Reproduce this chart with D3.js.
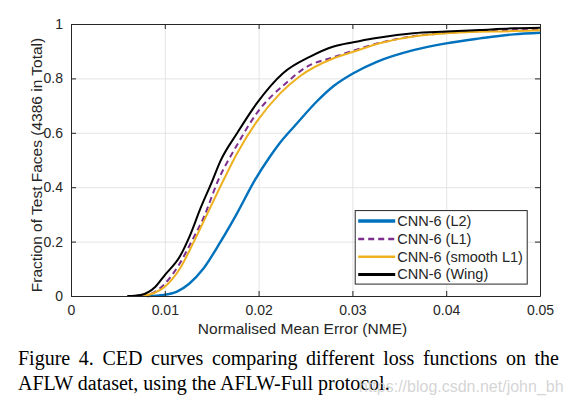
<!DOCTYPE html>
<html lang="en">
<head>
<meta charset="UTF-8">
<title>CED curves</title>
<script src="https://cdn.jsdelivr.net/npm/d3@7/dist/d3.min.js"></script>
<style>
    body { margin: 0; background: #fff; }
    svg text { font-family: "Liberation Sans", Arial, sans-serif; fill: #262626; }
    .grid line { stroke: #dcdcdc; stroke-width: 0.8px; }
    .grid path { display: none; }
    .axis path, .axis line { stroke: #262626; stroke-width: 1px; }
    .axis text { font-size: 14px; fill: #262626; }
    .curve { fill: none; stroke-linejoin: round; }
    .caption { font-family: "Liberation Serif", "Times New Roman", serif; font-size: 20px; fill: #000; }
</style>
</head>
<body>
<svg width="569" height="405"></svg>
<script>
    // values
    var xTicks = [0, 0.01, 0.02, 0.03, 0.04, 0.05],
        yTicks = [0, 0.2, 0.4, 0.6, 0.8, 1];

    var l2X = [0.0081, 0.0099, 0.0113, 0.0126, 0.0141, 0.0159, 0.0177, 0.0196, 0.0212, 0.0222, 0.0241, 0.0262, 0.0280, 0.0301, 0.0326, 0.0365, 0.0400, 0.0436, 0.0472, 0.0500],
        l2Y = [0, 0.004, 0.016, 0.045, 0.100, 0.197, 0.304, 0.426, 0.512, 0.560, 0.635, 0.715, 0.772, 0.819, 0.861, 0.904, 0.929, 0.947, 0.962, 0.968];

    var l1X = [0.0075, 0.0088, 0.0100, 0.0116, 0.0130, 0.0141, 0.0157, 0.0177, 0.0198, 0.0230, 0.0250, 0.0280, 0.0301, 0.0326, 0.0365, 0.0400, 0.0450, 0.0500],
        l1Y = [0, 0.012, 0.045, 0.120, 0.210, 0.285, 0.426, 0.555, 0.672, 0.785, 0.840, 0.878, 0.902, 0.928, 0.955, 0.967, 0.976, 0.981];

    var smoothX = [0.0077, 0.0088, 0.0100, 0.0116, 0.0131, 0.0145, 0.0162, 0.0177, 0.0198, 0.0223, 0.0244, 0.0280, 0.0301, 0.0329, 0.0365, 0.0400, 0.0472, 0.0500],
        smoothY = [0, 0.010, 0.034, 0.100, 0.200, 0.300, 0.422, 0.524, 0.641, 0.745, 0.808, 0.874, 0.898, 0.929, 0.954, 0.966, 0.974, 0.977];

    var wingX = [0.0060, 0.0074, 0.0090, 0.0100, 0.0116, 0.0127, 0.0138, 0.0151, 0.0159, 0.0177, 0.0198, 0.0226, 0.0255, 0.0280, 0.0301, 0.0322, 0.0365, 0.0400, 0.0436, 0.0472, 0.0500],
        wingY = [0, 0.004, 0.034, 0.077, 0.145, 0.224, 0.322, 0.426, 0.494, 0.598, 0.708, 0.819, 0.880, 0.917, 0.933, 0.947, 0.966, 0.972, 0.978, 0.984, 0.986];

    var names = ['CNN-6 (L2)', 'CNN-6 (L1)', 'CNN-6 (smooth L1)', 'CNN-6 (Wing)'];

    var series = [
        { name: names[0], xs: l2X, ys: l2Y, color: '#0072bd', width: 2.4, dash: null },
        { name: names[1], xs: l1X, ys: l1Y, color: '#7e2f8e', width: 2, dash: '6,4' },
        { name: names[2], xs: smoothX, ys: smoothY, color: '#edb120', width: 2, dash: null },
        { name: names[3], xs: wingX, ys: wingY, color: '#000000', width: 2, dash: null }
    ];

    var svg = d3.select('svg'),
        margin = { top: 24, right: 29, bottom: 109, left: 71 },
        width = 569 - margin.left - margin.right,
        height = 405 - margin.top - margin.bottom,
        g = svg.append('g').attr('transform', 'translate(' + margin.left + ',' + margin.top + ')');

    var x = d3.scaleLinear().domain([0, 0.05]).range([0, width]),
        y = d3.scaleLinear().domain([0, 1]).range([height, 0]);

    // grid
    g.append('g')
        .attr('class', 'grid')
        .attr('transform', 'translate(0,' + height + ')')
        .call(d3.axisBottom(x).tickValues(xTicks).tickSize(-height).tickFormat(''));
    g.append('g')
        .attr('class', 'grid')
        .call(d3.axisLeft(y).tickValues(yTicks).tickSize(-width).tickFormat(''));

    // curves
    var line = d3.line()
        .x(function(d) { return x(d[0]); })
        .y(function(d) { return y(d[1]); })
        .curve(d3.curveMonotoneX);

    series.forEach(function(s) {
        g.append('path')
            .datum(d3.zip(s.xs, s.ys))
            .attr('class', 'curve')
            .attr('d', line)
            .attr('stroke', s.color)
            .attr('stroke-width', s.width)
            .attr('stroke-dasharray', s.dash);
    });

    // axes, ticks pointing inward on all four sides
    g.append('g')
        .attr('class', 'axis')
        .attr('transform', 'translate(0,' + height + ')')
        .call(d3.axisBottom(x).tickValues(xTicks).tickSizeInner(-5).tickSizeOuter(0).tickPadding(9).tickFormat(String));
    g.append('g')
        .attr('class', 'axis')
        .call(d3.axisTop(x).tickValues(xTicks).tickSizeInner(-5).tickSizeOuter(0).tickFormat(''));
    g.append('g')
        .attr('class', 'axis')
        .call(d3.axisLeft(y).tickValues(yTicks).tickSizeInner(-5).tickSizeOuter(0).tickPadding(8).tickFormat(String));
    g.append('g')
        .attr('class', 'axis')
        .attr('transform', 'translate(' + width + ',0)')
        .call(d3.axisRight(y).tickValues(yTicks).tickSizeInner(-5).tickSizeOuter(0).tickFormat(''));

    // axis labels
    g.append('text')
        .attr('x', width / 2 - 3)
        .attr('y', height + 38)
        .attr('text-anchor', 'middle')
        .style('font-size', '15.5px')
        .text('Normalised Mean Error (NME)');
    g.append('text')
        .attr('transform', 'translate(' + (-29) + ',' + (height / 2 + 5) + ') rotate(-90)')
        .attr('text-anchor', 'middle')
        .style('font-size', '15.5px')
        .text('Fraction of Test Faces (4386 in Total)');

    // legend
    var legend = g.append('g').attr('transform', 'translate(' + x(0.0303) + ',' + y(0.314) + ')');
    legend.append('rect')
        .attr('width', 172)
        .attr('height', 73.5)
        .attr('fill', '#fff')
        .attr('stroke', '#262626')
        .attr('stroke-width', 1);
    series.forEach(function(s, i) {
        var ly = 10.5 + i * 17.8;
        legend.append('line')
            .attr('x1', 3).attr('x2', 40)
            .attr('y1', ly).attr('y2', ly)
            .attr('stroke', s.color)
            .attr('stroke-width', i === 0 ? 3.5 : (i === 3 ? 3 : 2.5))
            .attr('stroke-dasharray', s.dash);
        legend.append('text')
            .attr('x', 42)
            .attr('y', ly + 5)
            .style('font-size', '14.5px')
            .text(s.name);
    });

    // caption
    var cap1 = svg.append('text')
        .attr('class', 'caption')
        .attr('x', 18)
        .attr('y', 365)
        .text('Figure 4. CED curves comparing different loss functions on the');
    var natural = cap1.node().getComputedTextLength(),
        gaps = 9;
    cap1.style('word-spacing', ((541 - natural) / gaps) + 'px');

    svg.append('text')
        .attr('class', 'caption')
        .attr('x', 18)
        .attr('y', 389.5)
        .text('AFLW dataset, using the AFLW-Full protocol.');

    svg.append('text')
        .attr('x', 359)
        .attr('y', 392)
        .style('font-size', '16px')
        .style('fill', 'rgba(205,205,205,0.85)')
        .text('https://blog.csdn.net/john_bh');
</script>
</body>
</html>
